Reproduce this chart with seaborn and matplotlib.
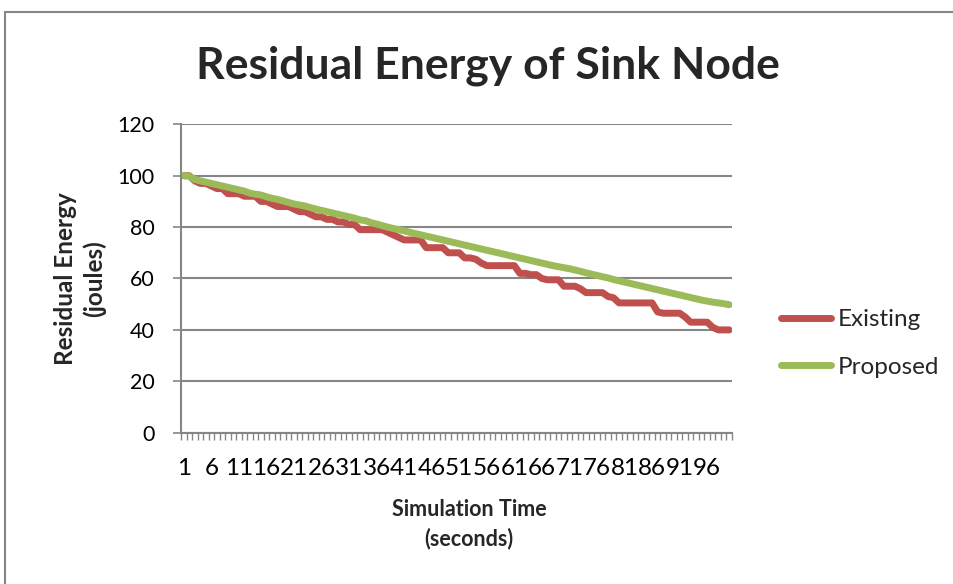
import numpy as np
import pandas as pd
import matplotlib
matplotlib.use("Agg")
import matplotlib.pyplot as plt
from matplotlib.patches import Rectangle
from matplotlib.lines import Line2D
import seaborn as sns

# ---- data ----
time = list(range(1, 101))
existing = [100, 100, 98, 97, 97, 96, 95, 95, 93, 93,
            93, 92, 92, 92, 90, 90, 89, 88, 88, 88,
            87, 86, 86, 85, 84, 84, 83, 83, 82, 82,
            81, 81, 79, 79, 79, 79, 79, 78, 77, 76,
            75, 75, 75, 75, 72, 72, 72, 72, 70, 70,
            70, 68, 68, 67.5, 66, 65, 65, 65, 65, 65,
            65, 62, 62, 61.5, 61.5, 60, 59.5, 59.5, 59.5, 57,
            57, 57, 56, 54.5, 54.5, 54.5, 54.5, 53, 52.5, 50.5,
            50.5, 50.5, 50.5, 50.5, 50.5, 50.5, 47, 46.5, 46.5, 46.5,
            46.5, 45, 43, 43, 43, 43, 41, 40, 40, 40]
proposed = [100, 99.8, 98.5, 98, 97.5, 97, 96.5, 96, 95.5, 95,
            94.5, 94, 93.2, 92.8, 92.5, 91.8, 91.2, 90.8, 90.2, 89.6,
            89, 88.6, 88.2, 87.6, 87, 86.5, 86, 85.5, 85, 84.5,
            84, 83.5, 82.8, 82.5, 81.7, 81.2, 80.6, 80, 79.5, 79,
            78.5, 78, 77.5, 77, 76.5, 76, 75.5, 75, 74.5, 74,
            73.5, 73, 72.5, 72, 71.5, 71, 70.5, 70, 69.5, 69,
            68.5, 68, 67.5, 67, 66.5, 66, 65.5, 65, 64.6, 64.2,
            63.8, 63.3, 62.8, 62.2, 61.7, 61.2, 60.7, 60.2, 59.6, 59.1,
            58.6, 58.1, 57.6, 57.1, 56.6, 56.1, 55.6, 55.1, 54.6, 54.1,
            53.6, 53.1, 52.6, 52.1, 51.6, 51.2, 50.8, 50.5, 50.2, 49.8]
series_names = ["Existing", "Proposed"]
y_ticks = [0, 20, 40, 60, 80, 100, 120]
x_label_ticks = list(range(1, 101, 5))

title = "Residual Energy of Sink Node"
x_title = "Simulation Time\n(seconds)"
y_title = "Residual Energy\n(joules)"

RED = "#C0504D"
GREEN = "#9BBB59"
GRID = "#868686"

df = pd.DataFrame({
    "time": time * 2,
    "energy": existing + proposed,
    "series": [series_names[0]] * len(time) + [series_names[1]] * len(time),
})

sns.set_style("white")
plt.rcParams["font.family"] = ["Lato", "DejaVu Sans"]

W, H = 954, 584
fig = plt.figure(figsize=(W / 100, H / 100), dpi=100)
ax = fig.add_axes([181 / W, 1 - 432.7 / H, 551 / W, (432.7 - 124.3) / H])

sns.lineplot(data=df, x="time", y="energy", hue="series",
             palette=[RED, GREEN], linewidth=5.0, ax=ax, legend=False)
for ln in ax.lines:
    ln.set_solid_capstyle("round")
    ln.set_solid_joinstyle("round")

ax.set_xlim(0.5, 100.5)
ax.set_ylim(0, 120)
ax.set_yticks(y_ticks)
ax.set_yticklabels([str(v) for v in y_ticks])
ax.set_xticks(x_label_ticks)
ax.set_xticklabels([str(v) for v in x_label_ticks])
ax.set_xticks(np.arange(0.5, 101, 1), minor=True)
ax.tick_params(axis="x", which="both", bottom=True)
ax.tick_params(axis="y", which="both", left=True)
ax.tick_params(axis="x", which="major", length=0, pad=18, labelsize=17.5, colors="black")
ax.tick_params(axis="x", which="minor", length=5, width=1, color=GRID, direction="out")
ax.tick_params(axis="y", which="major", length=6, width=1.2, color=GRID, pad=13,
               labelsize=15.5, labelcolor="black", direction="out")
ax.set_xlabel("")
ax.set_ylabel("")

ax.grid(axis="y", color=GRID, linewidth=1.5)
ax.set_axisbelow(True)
for s in ["top", "right"]:
    ax.spines[s].set_visible(False)
for s in ["left", "bottom"]:
    ax.spines[s].set_color(GRID)
    ax.spines[s].set_linewidth(1.5)

fig.text(488 / W, 1 - 66 / H, title, ha="center", va="center",
         fontsize=32, fontweight="bold")
fig.text(469 / W, 1 - 524 / H, x_title, ha="center", va="center",
         fontsize=15.5, fontweight="bold", linespacing=1.45)
fig.text(80 / W, 1 - 279 / H, y_title, ha="center", va="center", rotation=90,
         fontsize=17.5, fontweight="bold", linespacing=1.3)

handles = [Line2D([0], [0], color=RED, lw=5.0, solid_capstyle="round"),
           Line2D([0], [0], color=GREEN, lw=5.0, solid_capstyle="round")]
fig.legend(handles, series_names, loc="center left",
           bbox_to_anchor=(781 / W, 1 - 343.5 / H), frameon=False,
           fontsize=17.5, handlelength=2.05, handletextpad=0.29,
           labelspacing=1.1, borderpad=0, borderaxespad=0)

fig.patches.append(Rectangle((5 / W, -0.1), 1.2, (H - 12) / H + 0.1,
                             transform=fig.transFigure, fill=False,
                             edgecolor=GRID, linewidth=1.5, clip_on=False))

fig.savefig("out.png", dpi=100)
